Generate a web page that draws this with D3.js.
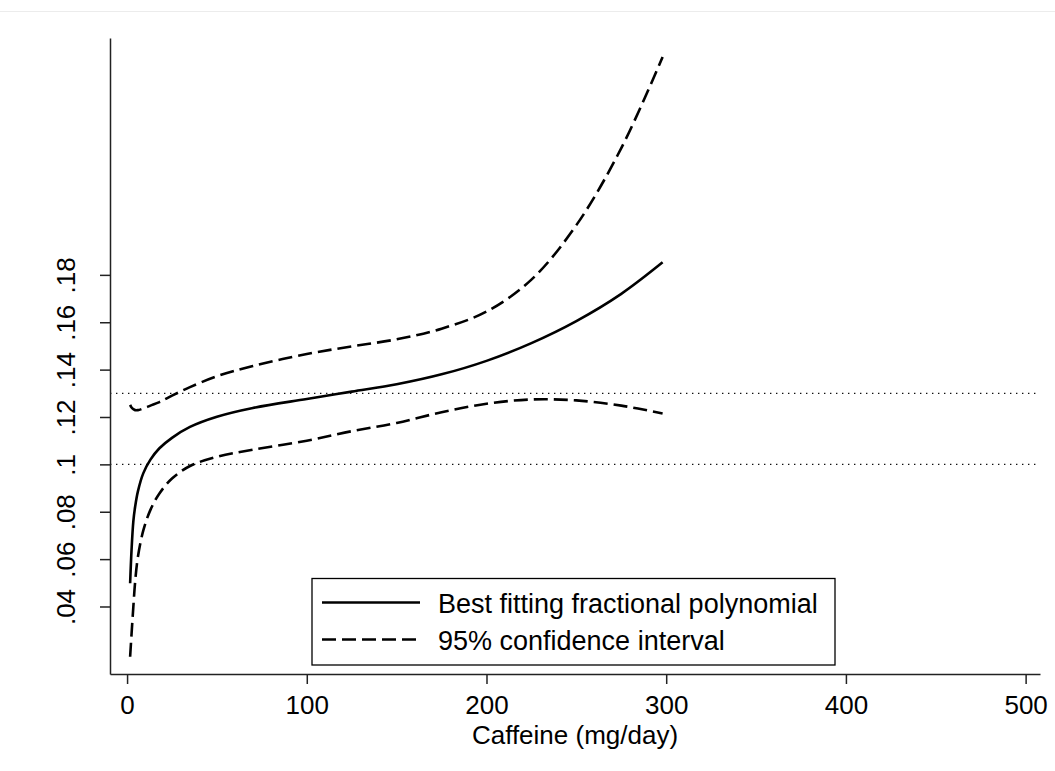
<!DOCTYPE html>
<html>
<head>
<meta charset="utf-8">
<script src="https://cdn.jsdelivr.net/npm/d3@7"></script>
<style>
  body { margin: 0; background: #fff; }
  svg { display: block; font-family: "Liberation Sans", Arial, sans-serif; }
</style>
</head>
<body>
<svg width="1055" height="771"></svg>
<script>
const width = 1055;
const height = 771;

// caffeine grid (mg/day) and the three curves
const caffeine = [1.7, 2.5, 3.5, 4.5, 6, 9, 13, 18, 25, 35, 50, 70, 100, 125, 150, 175, 200, 225, 250, 275, 298];
const fit =   [.0498, .0640, .0760, .0822, .0885, .0962, .1020, .1068, .1112, .1158, .1201, .1238, .1276, .1307, .1338, .1380, .1437, .1512, .1605, .1720, .1853];
const lower = [.0188, .0285, .0400, .0505, .0608, .0720, .0808, .0877, .0940, .0993, .1032, .1062, .1100, .1140, .1175, .1220, .1256, .1274, .1270, .1248, .1215];
const upper = [.1251, .1240, .1233, .1229, .1229, .1236, .1248, .1263, .1290, .1326, .1372, .1415, .1466, .1498, .1528, .1573, .1645, .1780, .2010, .2335, .2720];

const refLines = [.1, .13];
const xTicks = [0, 100, 200, 300, 400, 500];
const yTicks = [.04, .06, .08, .1, .12, .14, .16, .18];

const legendItems = [
  { label: "Best fitting fractional polynomial", dash: null },
  { label: "95% confidence interval", dash: "14,6" }
];

const svg = d3.select("svg");

// faint page border at the top
svg.append("line")
  .attr("x1", 0).attr("x2", width)
  .attr("y1", 11.5).attr("y2", 11.5)
  .attr("stroke", "#ececec");

const x = d3.scaleLinear().domain([-9.5, 508]).range([110, 1040]);
const y = d3.scaleLinear().domain([0.0115, 0.2800]).range([674, 38]);

// reference lines
svg.append("g")
  .selectAll("line")
  .data(refLines)
  .join("line")
    .attr("x1", x.range()[0]).attr("x2", x.range()[1])
    .attr("y1", d => y(d)).attr("y2", d => y(d))
    .attr("stroke", "#111")
    .attr("stroke-width", 1.3)
    .attr("stroke-dasharray", "1.4,4.6");

// axes
const fmt = d => d3.format(".2~f")(d).replace(/^0/, "");

const yAxis = svg.append("g")
  .attr("transform", `translate(${x.range()[0]},0)`)
  .call(d3.axisLeft(y).tickValues(yTicks).tickFormat(fmt).tickSize(10).tickSizeOuter(0));
yAxis.selectAll("text")
  .attr("transform", "rotate(-90)")
  .attr("x", 0).attr("y", -35).attr("dy", 0)
  .attr("text-anchor", "middle");

const xAxis = svg.append("g")
  .attr("transform", `translate(0,${y.range()[0]})`)
  .call(d3.axisBottom(x).tickValues(xTicks).tickSize(10).tickSizeOuter(0));
xAxis.selectAll("text").attr("y", 40).attr("dy", 0);

svg.selectAll(".tick text").attr("font-size", 26).attr("fill", "#000");
svg.selectAll(".domain, .tick line").attr("stroke", "#222").attr("stroke-width", 1.5);
svg.selectAll("g").attr("font-family", null);

svg.append("text")
  .attr("x", (x.range()[0] + x.range()[1]) / 2)
  .attr("y", 744)
  .attr("text-anchor", "middle")
  .attr("font-size", 26)
  .text("Caffeine (mg/day)");

// curves
const line = d3.line()
  .x((d, i) => x(caffeine[i]))
  .y(d => y(d))
  .curve(d3.curveCatmullRom.alpha(0.5));

svg.append("path").datum(upper)
  .attr("d", line).attr("fill", "none")
  .attr("stroke", "#000").attr("stroke-width", 2.6)
  .attr("stroke-dasharray", "14,6");

svg.append("path").datum(lower)
  .attr("d", line).attr("fill", "none")
  .attr("stroke", "#000").attr("stroke-width", 2.6)
  .attr("stroke-dasharray", "14,6");

svg.append("path").datum(fit)
  .attr("d", line).attr("fill", "none")
  .attr("stroke", "#000").attr("stroke-width", 2.6);

// legend
const legend = svg.append("g").attr("transform", "translate(312,578.5)");
legend.append("rect")
  .attr("width", 523).attr("height", 86.5)
  .attr("fill", "#fff").attr("stroke", "#000").attr("stroke-width", 1.3);

const item = legend.selectAll("g.item")
  .data(legendItems)
  .join("g")
    .attr("class", "item")
    .attr("transform", (d, i) => `translate(0,${24 + i * 37})`);
item.append("line")
  .attr("x1", 10).attr("x2", 108)
  .attr("stroke", "#000").attr("stroke-width", 2.6)
  .attr("stroke-dasharray", d => d.dash);
item.append("text")
  .attr("x", 126).attr("y", 10)
  .attr("font-size", 27)
  .text(d => d.label);
</script>
</body>
</html>
